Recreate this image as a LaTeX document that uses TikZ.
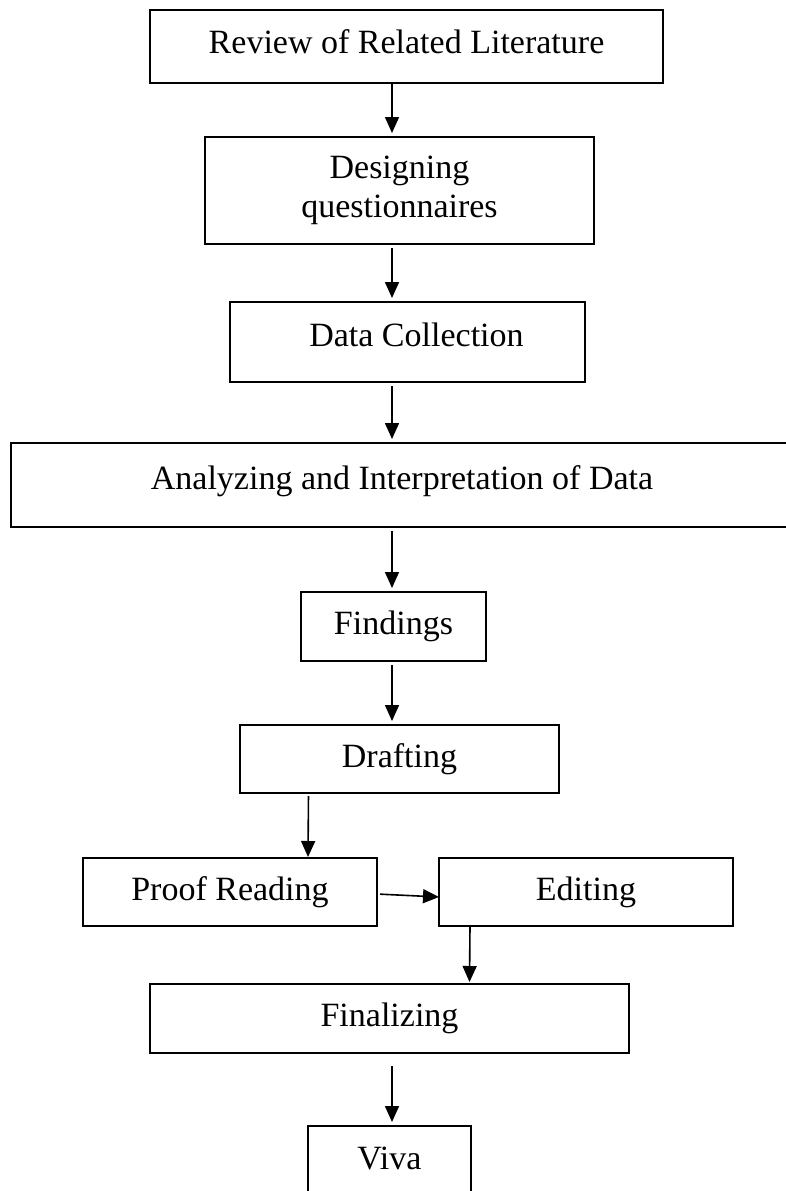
\documentclass[tikz,border=0pt]{standalone}
\usepackage{fontspec}
\setmainfont{Liberation Serif}
\usetikzlibrary{positioning,arrows.meta}

\begin{document}
\begin{tikzpicture}[
    stage/.style={rectangle, draw=black, line width=2pt, inner sep=0pt, outer sep=0pt, align=center, font=\fontsize{34}{39}\selectfont},
    flowarrow/.style={-{Triangle[length=16pt,width=14pt]}, line width=1.6pt, shorten <=4pt, shorten >=4pt}
]
    \useasboundingbox (0,0) rectangle (786pt,-1191pt);
    \clip (0,0) rectangle (786pt,-1191pt);
    \coordinate (axis) at (392pt,0);

    % Review step - top
    \node [stage, minimum width=513pt, minimum height=73pt] (review) at (406.5pt,-46.5pt) {\raisebox{10pt}{Review of Related Literature}};

    % Questionnaire design
    \node [stage, minimum width=389pt, minimum height=107pt, below=54pt of review, xshift=-7pt] (design) {Designing\\questionnaires};

    % Data collection
    \node [stage, minimum width=355pt, minimum height=80pt, below=58pt of design, xshift=8pt] (collect) {\raisebox{14pt}{\hspace{18pt}Data Collection}};

    % Analysis - wide box, runs off the right edge
    \node [stage, minimum width=782pt, minimum height=84pt, below=61pt of collect, xshift=-5.5pt] (analyze) {\raisebox{14pt}{Analyzing and Interpretation of Data}};

    % Findings
    \node [stage, minimum width=185pt, minimum height=69pt, below=65pt of analyze, xshift=-8.5pt] (findings) {Findings};

    % Drafting
    \node [stage, minimum width=319pt, minimum height=68pt, below=64pt of findings, xshift=6pt] (drafting) {Drafting};

    % Proof reading and editing - side by side
    \node [stage, minimum width=294pt, minimum height=68pt, below=65pt of drafting, xshift=-169.5pt] (proof) {Proof Reading};
    \node [stage, minimum width=294pt, minimum height=68pt, right=62pt of proof] (editing) {Editing};

    % Finalizing
    \node [stage, minimum width=479pt, minimum height=69pt, below=58pt of editing, xshift=-196.5pt] (final) {\raisebox{-8pt}{Finalizing}};

    % Viva - bottom, cut by the page edge
    \node [stage, minimum width=163pt, minimum height=74pt, below=73pt of final] (viva) {\raisebox{10pt}{Viva}};

    % Flow arrows
    \draw [flowarrow, shorten <=0pt] (review.south -| axis) -- (design.north -| axis);
    \draw [flowarrow] (design.south -| axis) -- (collect.north -| axis);
    \draw [flowarrow] (collect.south -| axis) -- (analyze.north -| axis);
    \draw [flowarrow] (analyze.south -| axis) -- (findings.north -| axis);
    \draw [flowarrow] (findings.south -| axis) -- (drafting.north -| axis);
    \draw [flowarrow, shorten <=3pt, shorten >=1pt] ([xshift=-91pt]drafting.south) -- ([xshift=78pt]proof.north);
    \draw [flowarrow, shorten <=3pt, shorten >=0pt] ([yshift=-2pt]proof.east) -- ([yshift=-5pt]editing.west);
    \draw [flowarrow, shorten <=0pt, shorten >=2pt] ([xshift=-116pt]editing.south) -- ([xshift=80pt]final.north);
    \draw [flowarrow, shorten <=13pt] (final.south -| axis) -- (viva.north -| axis);

\end{tikzpicture}
\end{document}
